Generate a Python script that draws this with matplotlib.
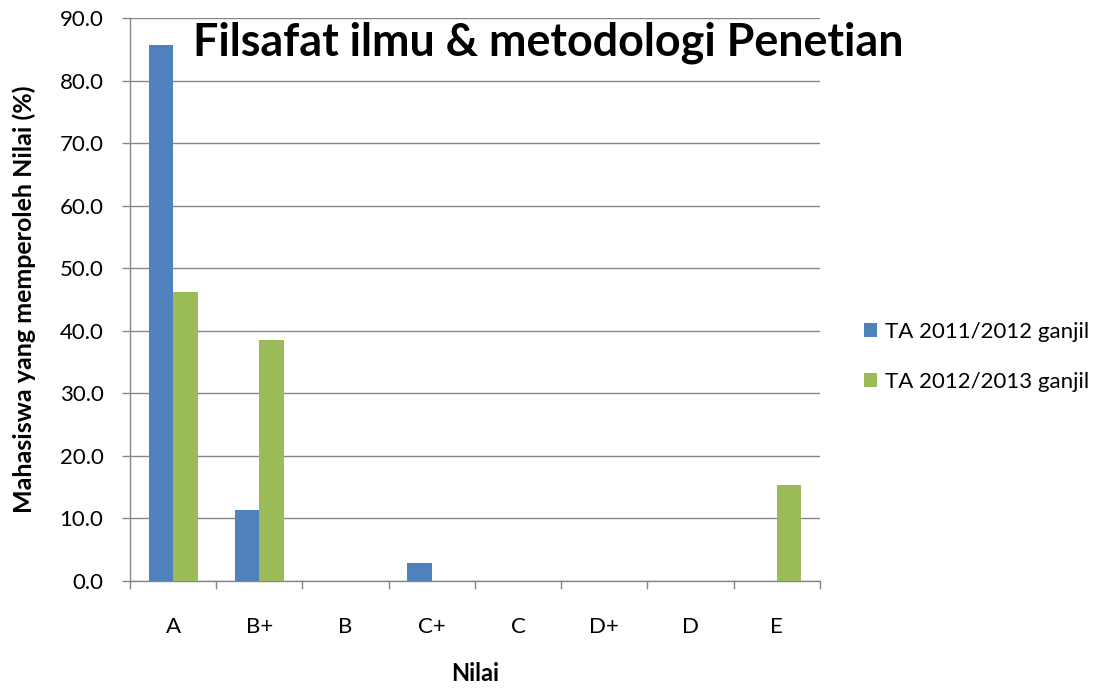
import numpy as np
import matplotlib
matplotlib.use('Agg')
import matplotlib.pyplot as plt

plt.rcParams['font.family'] = ['Lato', 'DejaVu Sans']

# data
nilai = ['A', 'B+', 'B', 'C+', 'C', 'D+', 'D', 'E']
ta_2011 = [85.7, 11.4, 0.0, 2.9, 0.0, 0.0, 0.0, 0.0]
ta_2012 = [46.2, 38.5, 0.0, 0.0, 0.0, 0.0, 0.0, 15.4]
series_labels = ['TA 2011/2012 ganjil', 'TA 2012/2013 ganjil']
colors = ['#4F81BD', '#9BBB59']

fig = plt.figure(figsize=(11.07, 6.90), dpi=100)
ax = fig.add_axes([0.1174, 0.158, 0.6233, 0.8159])

x = np.arange(len(nilai))
w = 0.285
ax.bar(x - w / 2, ta_2011, w, color=colors[0], label=series_labels[0], zorder=3)
ax.bar(x + w / 2, ta_2012, w, color=colors[1], label=series_labels[1], zorder=3)

ax.set_xlim(-0.5, len(nilai) - 0.5)
ax.set_ylim(0, 90)
ax.set_yticks(np.arange(0, 91, 10))
ax.set_yticklabels([f'{v:.1f}' for v in np.arange(0, 91, 10)], fontsize=16)
ax.set_xticks(x)
ax.set_xticklabels(nilai, fontsize=16)
ax.set_xticks(np.arange(-0.5, len(nilai)), minor=True)
ax.tick_params(axis='x', which='major', length=0, pad=26)
ax.tick_params(axis='x', which='minor', length=6, color='#868686', width=1)
ax.tick_params(axis='y', length=6, color='#868686', width=1, pad=13)

ax.grid(axis='y', color='#868686', linewidth=1, zorder=0)
for s in ['top', 'right']:
    ax.spines[s].set_visible(False)
for s in ['left', 'bottom']:
    ax.spines[s].set_color('#868686')
    ax.spines[s].set_linewidth(1)

ax.set_ylabel('Mahasiswa yang memperoleh Nilai (%)', fontsize=18, fontweight='bold', labelpad=17)
ax.set_xlabel('Nilai', fontsize=17, fontweight='bold', labelpad=18)

fig.text(0.174, 0.938, 'Filsafat ilmu & metodologi Penetian', fontsize=32.3,
         fontweight='bold', ha='left', va='center')

leg = ax.legend(loc='center left', bbox_to_anchor=(1.035, 0.398), frameon=False,
                fontsize=16, handlelength=0.6, handleheight=0.6, handletextpad=0.35,
                labelspacing=1.35)

fig.savefig('out.png', dpi=100)
